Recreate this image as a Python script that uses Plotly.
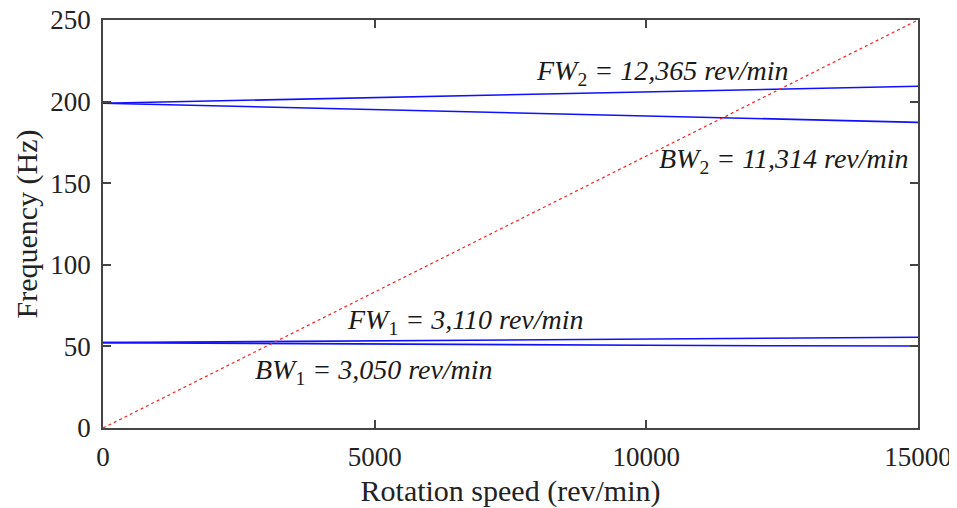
import plotly.graph_objects as go

speed = [0, 2500, 5000, 7500, 10000, 12500, 15000]
fw1 = [52.3, 52.8, 53.3, 53.9, 54.5, 55.0, 55.6]
bw1 = [52.3, 51.8, 51.4, 51.0, 50.7, 50.4, 50.2]
fw2 = [199.0, 200.8, 202.6, 204.3, 206.0, 207.7, 209.4]
bw2 = [199.0, 197.0, 195.1, 193.1, 191.2, 189.2, 187.3]
excit_speed = [0, 15000]
excit_freq = [0, 250]

x_ticks = [0, 5000, 10000, 15000]
x_tick_text = ["0", "5000", "10000", "15000"]
y_ticks = [0, 50, 100, 150, 200, 250]
y_tick_text = ["0", "50", "100", "150", "200", "250"]

label_text = [
    "<i>FW</i><sub>2</sub><i> = 12,365 rev/min</i>",
    "<i>BW</i><sub>2</sub><i> = 11,314 rev/min</i>",
    "<i>FW</i><sub>1</sub><i> = 3,110 rev/min</i>",
    "<i>BW</i><sub>1</sub><i> = 3,050 rev/min</i>",
]
label_x = [10290, 12530, 6680, 4990]
label_y = [218, 164, 65, 34.5]

FONT = "Liberation Serif, Times New Roman, serif"
fig = go.Figure()
for ys in [fw1, bw1, fw2, bw2]:
    fig.add_trace(go.Scatter(x=speed, y=ys, mode="lines",
                             line=dict(color="#1010ff", width=1.6),
                             showlegend=False, hoverinfo="skip"))
fig.add_trace(go.Scatter(x=excit_speed, y=excit_freq, mode="lines",
                         line=dict(color="#ff2020", width=1.2, dash="dot"),
                         showlegend=False, hoverinfo="skip"))

for t, x, y in zip(label_text, label_x, label_y):
    fig.add_annotation(x=x, y=y, text=t, showarrow=False,
                       font=dict(family=FONT, size=28, color="#1a1a1a"),
                       xanchor="center", yanchor="middle")

axis_common = dict(showgrid=False, zeroline=False, showline=True,
                   linecolor="#444444", linewidth=1.5, mirror="ticks",
                   ticks="inside", ticklen=8, tickwidth=1.5, tickcolor="#444444",
                   ticklabeloverflow="allow",
                   tickfont=dict(family=FONT, size=27, color="#222222"))

fig.update_xaxes(range=[0, 15000], tickvals=x_ticks, ticktext=x_tick_text,
                 ticklabelstandoff=4,
                 title=dict(text="Rotation speed (rev/min)",
                            font=dict(family=FONT, size=30, color="#222222"),
                            standoff=12),
                 **axis_common)
fig.update_yaxes(range=[0, 250], tickvals=y_ticks, ticktext=y_tick_text,
                 ticklabelstandoff=5,
                 title=dict(text="Frequency (Hz)",
                            font=dict(family=FONT, size=30, color="#222222"),
                            standoff=4),
                 **axis_common)

# page body has an 8px default margin, so shrink the figure accordingly
fig.update_layout(width=949, height=500, plot_bgcolor="white", paper_bgcolor="white",
                  margin=dict(l=95, r=39, t=12, b=80, autoexpand=False))
fig.write_html("out.html")
